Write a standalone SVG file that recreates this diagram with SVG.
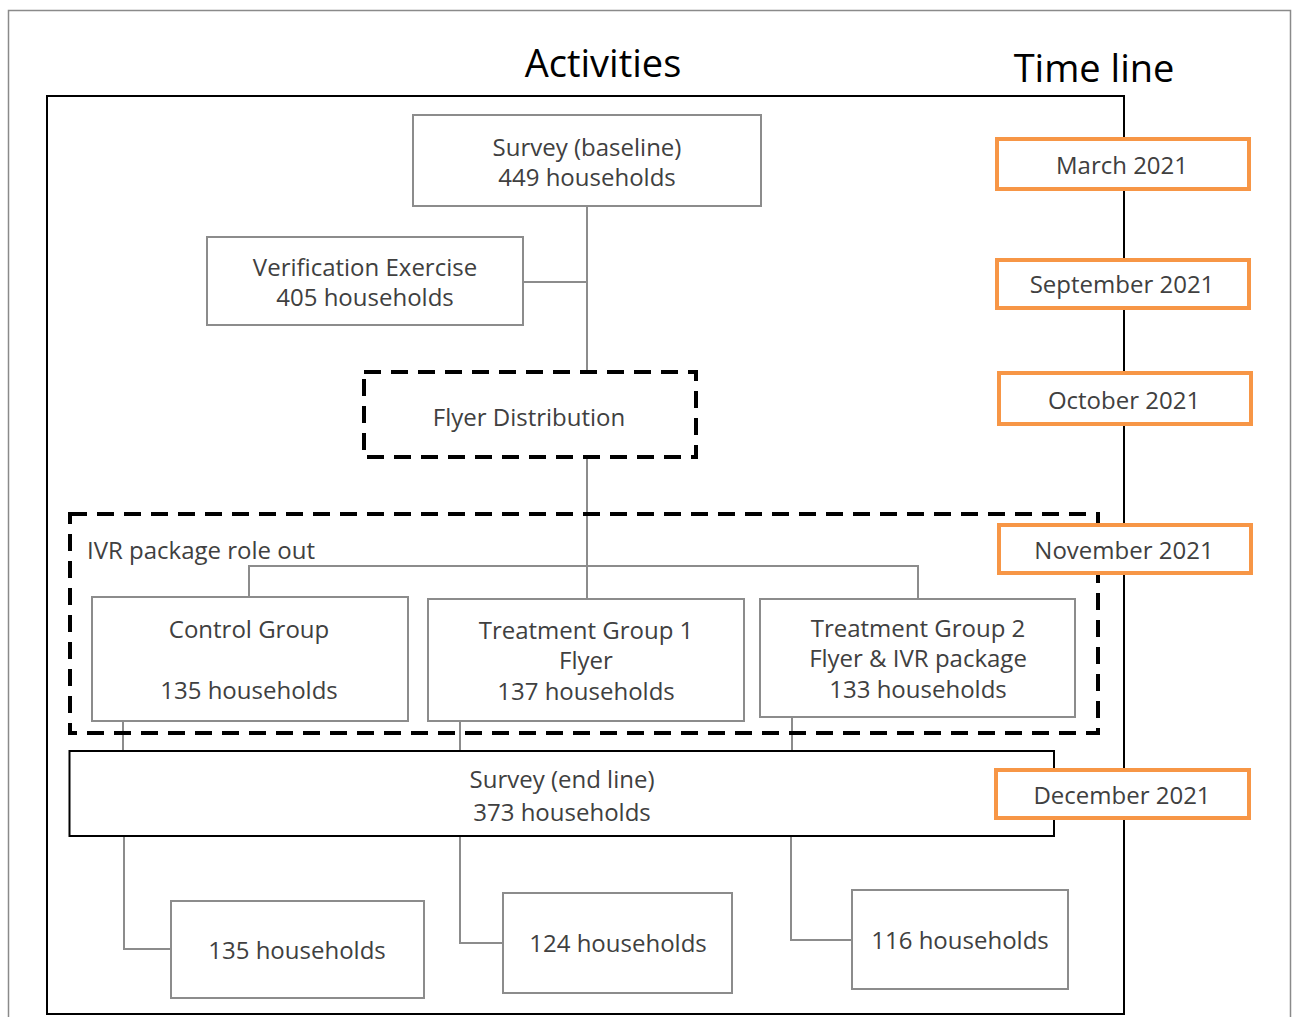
<svg xmlns="http://www.w3.org/2000/svg" width="1293" height="1017" viewBox="0 0 1293 1017">
<style>
text{font-family:"Open Sans","Noto Sans",sans-serif;fill:#404040;font-size:24px;text-anchor:middle;dominant-baseline:central}
.title{fill:#000;font-size:38px}
.box{fill:#fff;stroke:#8c8c8c;stroke-width:2}
.dash{fill:none;stroke:#000;stroke-width:4;stroke-dasharray:17 10}
.tl{fill:#fff;stroke:#f79646;stroke-width:4}
.conn{fill:none;stroke:#8c8c8c;stroke-width:2}
</style>
<rect x="0" y="0" width="1293" height="1017" fill="#fff"/>
<rect x="8.5" y="10.5" width="1282" height="1030" fill="none" stroke="#8a8a8a" stroke-width="1.5"/>
<text class="title" x="603" y="62">Activities</text>
<text class="title" x="1094" y="67">Time line</text>
<rect id="frame" x="47" y="96" width="1077" height="918" fill="none" stroke="#000" stroke-width="2"/>
<g id="connectors">
<path class="conn" d="M587 206V371M523 282H587"/>
<path class="conn" d="M587 458V566M249 597V566H918V599M587 566V599"/>
<path class="conn" d="M123 721V751M460 721V751M792 717V751"/>
<path class="conn" d="M124 836V949H171M460 836V943H503M791 836V940H852"/>
</g>
<g id="survey-baseline"><rect class="box" x="413" y="115" width="348" height="91"/><text x="587" y="146">Survey (baseline)</text><text x="587" y="176">449 households</text></g>
<g id="verification"><rect class="box" x="207" y="237" width="316" height="88"/><text x="365" y="266">Verification Exercise</text><text x="365" y="296">405 households</text></g>
<g id="flyer-distribution"><rect class="dash" x="364" y="372" width="332" height="85"/><text x="529" y="416">Flyer Distribution</text></g>
<g id="ivr-rollout"><rect class="dash" x="70" y="514" width="1028" height="219"/><text x="87" y="549" style="text-anchor:start">IVR package role out</text></g>
<g id="control"><rect class="box" x="92" y="597" width="316" height="124"/><text x="249" y="628">Control Group</text><text x="249" y="689">135 households</text></g>
<g id="tg1"><rect class="box" x="428" y="599" width="316" height="122"/><text x="586" y="629">Treatment Group 1</text><text x="586" y="659">Flyer</text><text x="586" y="690">137 households</text></g>
<g id="tg2"><rect class="box" x="760" y="599" width="315" height="118"/><text x="918" y="627">Treatment Group 2</text><text x="918" y="657">Flyer &amp; IVR package</text><text x="918" y="688">133 households</text></g>
<g id="survey-endline"><rect x="69.5" y="751" width="984.5" height="85" fill="#fff" stroke="#000" stroke-width="2"/><text x="562" y="778">Survey (end line)</text><text x="562" y="811">373 households</text></g>
<g id="result-control"><rect class="box" x="171" y="901" width="253" height="97"/><text x="297" y="949">135 households</text></g>
<g id="result-tg1"><rect class="box" x="503" y="893" width="229" height="100"/><text x="618" y="942">124 households</text></g>
<g id="result-tg2"><rect class="box" x="852" y="890" width="216" height="99"/><text x="960" y="939">116 households</text></g>
<g id="march"><rect class="tl" x="997" y="139" width="252" height="50"/><text x="1122" y="164">March 2021</text></g>
<g id="september"><rect class="tl" x="997" y="260" width="252" height="48"/><text x="1122" y="283">September 2021</text></g>
<g id="october"><rect class="tl" x="999" y="373" width="252" height="51"/><text x="1124" y="399">October 2021</text></g>
<g id="november"><rect class="tl" x="999" y="525" width="252" height="48"/><text x="1124" y="549">November 2021</text></g>
<g id="december"><rect class="tl" x="996" y="770" width="253" height="48"/><text x="1122" y="794">December 2021</text></g>
</svg>
